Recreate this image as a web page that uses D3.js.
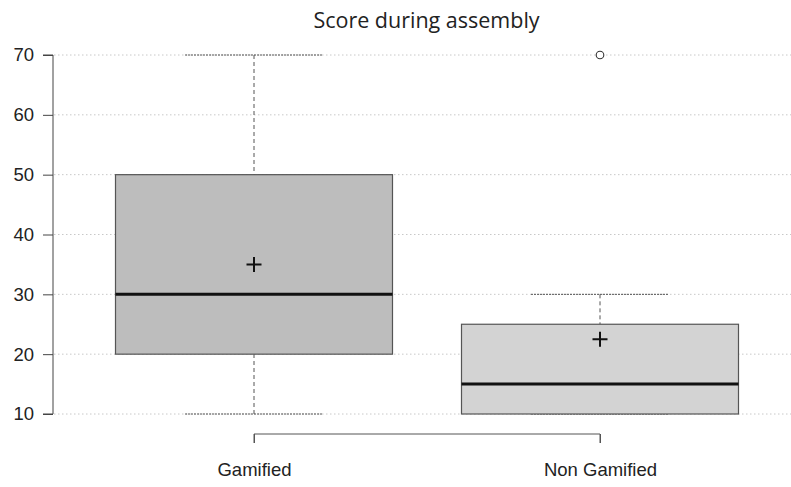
<!DOCTYPE html>
<html>
<head>
<meta charset="utf-8">
<script src="https://cdn.jsdelivr.net/npm/d3@7"></script>
<style>
  html, body { margin: 0; padding: 0; background: #fff; }
  svg { display: block; }
</style>
</head>
<body>
<svg id="chart" width="791" height="487"></svg>
<script>
const categories = ["Gamified", "Non Gamified"];
const whiskerLow = [10, 10];
const q1 = [20, 10];
const median = [30, 15];
const q3 = [50, 25];
const whiskerHigh = [70, 30];
const means = [35, 22.5];
const outliers = [[], [70]];
const fills = ["#bdbdbd", "#d3d3d3"];
const yTicks = [10, 20, 30, 40, 50, 60, 70];
const title = "Score during assembly";

const svg = d3.select("#chart");
const W = 791, H = 487;
const x = d3.scalePoint().domain(categories).range([254, 600]);
const y = d3.scaleLinear().domain([10, 70]).range([414, 55]);
const boxHalf = 138.5;
const capHalf = 69;

// grid
svg.append("g").selectAll("line").data(yTicks).join("line")
  .attr("x1", 54).attr("x2", W)
  .attr("y1", d => y(d)).attr("y2", d => y(d))
  .attr("stroke", "#c8c8c8").attr("stroke-width", 1)
  .attr("stroke-dasharray", "1.5,2.5");

// y axis
const yAxis = d3.axisLeft(y).tickValues(yTicks).tickSize(10).tickPadding(9).tickFormat(d3.format("d"));
const gy = svg.append("g").attr("transform", "translate(53,0)").call(yAxis);
gy.select(".domain").attr("stroke", "#444").attr("d", `M-10,${y(70)}H0V${y(10)}H-10`);
gy.selectAll(".tick line").attr("stroke", "#444");
gy.selectAll(".tick text").attr("font-family", "Liberation Sans, Arial, sans-serif")
  .attr("font-size", 18.5).attr("fill", "#222");

// x axis (bracket)
const xAxis = d3.axisBottom(x).tickSize(9).tickPadding(20);
const gx = svg.append("g").attr("transform", "translate(0,434)").call(xAxis);
gx.select(".domain").attr("stroke", "#555").attr("d", `M${x(categories[0])},9V0H${x(categories[1])}V9`);
gx.selectAll(".tick line").attr("stroke", "#555");
gx.selectAll(".tick text").attr("font-family", "Liberation Sans, Arial, sans-serif")
  .attr("font-size", 18.5).attr("fill", "#222");

const idx = d3.range(categories.length);
const g = svg.append("g");

// whiskers
idx.forEach(i => {
  const cx = x(categories[i]);
  if (whiskerHigh[i] > q3[i]) {
    g.append("line").attr("x1", cx).attr("x2", cx).attr("y1", y(whiskerHigh[i])).attr("y2", y(q3[i]))
      .attr("stroke", "#555").attr("stroke-dasharray", "4,3");
  }
  if (whiskerLow[i] < q1[i]) {
    g.append("line").attr("x1", cx).attr("x2", cx).attr("y1", y(whiskerLow[i])).attr("y2", y(q1[i]))
      .attr("stroke", "#555").attr("stroke-dasharray", "4,3");
  }
  g.append("line").attr("x1", cx - capHalf).attr("x2", cx + capHalf)
    .attr("y1", y(whiskerHigh[i])).attr("y2", y(whiskerHigh[i]))
    .attr("stroke", "#555").attr("stroke-dasharray", "2,1");
  g.append("line").attr("x1", cx - capHalf).attr("x2", cx + capHalf)
    .attr("y1", y(whiskerLow[i])).attr("y2", y(whiskerLow[i]))
    .attr("stroke", "#555").attr("stroke-dasharray", "2,1");
});

// boxes
g.selectAll("rect.box").data(idx).join("rect").attr("class", "box")
  .attr("x", i => x(categories[i]) - boxHalf)
  .attr("width", boxHalf * 2)
  .attr("y", i => y(q3[i]))
  .attr("height", i => y(q1[i]) - y(q3[i]))
  .attr("fill", i => fills[i])
  .attr("stroke", "#555").attr("stroke-width", 1.2);

// medians
g.selectAll("line.med").data(idx).join("line").attr("class", "med")
  .attr("x1", i => x(categories[i]) - boxHalf)
  .attr("x2", i => x(categories[i]) + boxHalf)
  .attr("y1", i => y(median[i])).attr("y2", i => y(median[i]))
  .attr("stroke", "#111").attr("stroke-width", 3);

// means (+)
idx.forEach(i => {
  const cx = x(categories[i]), cy = y(means[i]);
  g.append("path").attr("d", `M${cx - 7.5},${cy}H${cx + 7.5}M${cx},${cy - 7.5}V${cy + 7.5}`)
    .attr("stroke", "#111").attr("stroke-width", 2);
});

// outliers
idx.forEach(i => {
  outliers[i].forEach(v => {
    g.append("circle").attr("cx", x(categories[i])).attr("cy", y(v)).attr("r", 3.8)
      .attr("fill", "#fff").attr("stroke", "#333").attr("stroke-width", 1.1);
  });
});

// title
svg.append("text").attr("x", 426.5).attr("y", 27.5).attr("text-anchor", "middle")
  .attr("font-family", "Open Sans, sans-serif").attr("font-size", 21.5).attr("fill", "#222")
  .text(title);
</script>
</body>
</html>
